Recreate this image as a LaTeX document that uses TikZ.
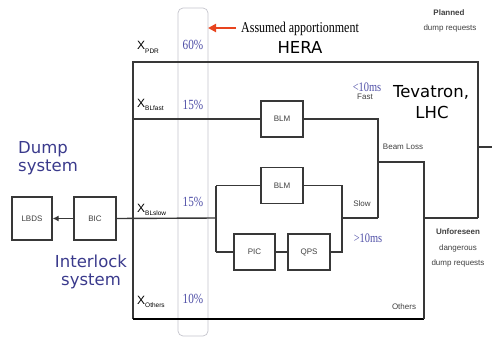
\documentclass[tikz,border=0pt]{standalone}
\usepackage{fontspec}
\setmainfont{Liberation Sans}
\newfontfamily\bigsans{DejaVu Sans}
\newfontfamily\sern[FakeStretch=0.8]{Liberation Serif}
\usetikzlibrary{arrows.meta}
\definecolor{ln}{HTML}{383838}
\definecolor{bluet}{HTML}{3A3A8C}
\definecolor{pct}{HTML}{4E4EA6}
\definecolor{arr}{HTML}{E8441E}
\definecolor{colg}{HTML}{C4C4CC}
\definecolor{lab}{HTML}{404040}
\tikzset{
  wire/.style={draw=ln, line width=1.4pt},
  blk/.style={draw=ln, line width=1.2pt, fill=white, minimum width=42pt, minimum height=36pt, inner sep=0pt, font=\fontsize{8}{9}\selectfont, text=lab},
  small/.style={font=\fontsize{8}{9}\selectfont, text=lab, inner sep=0pt},
  smallb/.style={font=\fontsize{8}{9}\selectfont\bfseries, text=lab, inner sep=0pt},
  big/.style={font=\bigsans\fontsize{16.5}{18}\selectfont, inner sep=0pt},
  pctst/.style={font=\sern\fontsize{14}{14}\selectfont, text=pct, inner sep=0pt, anchor=base},
  xlab/.style={inner sep=0pt, anchor=base west, text=black},
  mslab/.style={font=\sern\fontsize{13}{13}\selectfont, text=pct, inner sep=0pt, anchor=base},
}
\newcommand{\xsub}[1]{{\fontsize{12}{12}\selectfont X}\raisebox{-3pt}{\fontsize{6.5}{6.5}\selectfont #1}}
\begin{document}
\begin{tikzpicture}[x=1pt,y=-1pt]
\useasboundingbox (0,0) rectangle (492,337);
% apportionment column
\draw[colg, line width=0.7pt, rounded corners=5pt] (178,8) rectangle (208,336);
% frame
\coordinate (tl) at (133,62);
\coordinate (tr) at (478,62);
\coordinate (rb) at (478,218);
\coordinate (stub) at (492,147);
\coordinate (stubs) at (478,147);
\coordinate (bl) at (133,319);
\coordinate (br) at (424,319);
\draw[draw=ln, line width=1.8pt] (bl) -- (tl) -- (tr) -- (rb);
\draw[draw=black, line width=2.6pt] (bl) -- (br);
\draw[wire] (stubs) -- (stub);
% boxes
\node[blk, minimum width=40pt, minimum height=43pt] (lbds) at (32,218.5) {LBDS};
\node[blk, minimum height=43pt] (bic) at (95,218.5) {BIC};
\node[blk] (blmf) at (282,119) {BLM};
\node[blk] (blms) at (282,185.5) {BLM};
\node[blk, minimum width=41pt] (pic) at (254.5,252) {PIC};
\node[blk] (qps) at (309,252) {QPS};
% coordinates
\coordinate (fl) at (133,119);
\coordinate (fr) at (378,119);
\coordinate (sl) at (378,218);
\coordinate (sm) at (342,218);
\coordinate (bla) at (378,162);
\coordinate (blb) at (424,162);
\coordinate (ubr) at (424,218);
\coordinate (split) at (216,218);
\coordinate (splitt) at (216,185.5);
\coordinate (splitb) at (216,252);
\coordinate (joint) at (342,185.5);
\coordinate (joinb) at (342,252);
% connectors
\draw[wire, -{Latex[length=6pt,width=6pt]}] (bic.west) -- (lbds.east);
\draw[wire] (bic.east) -- (split);
\draw[wire] (splitt) -- (splitb);
\draw[wire] (splitt) -- (blms.west);
\draw[wire] (blms.east) -- (joint) -- (joinb) -- (qps.east);
\draw[wire] (splitb) -- (pic.west);
\draw[wire] (pic.east) -- (qps.west);
\draw[wire] (sm) -- (sl);
\draw[wire] (fl) -- (blmf.west);
\draw[wire] (blmf.east) -- (fr) -- (sl);
\draw[wire] (bla) -- (blb) -- (br);
\draw[wire] (ubr) -- (rb);
% red arrow
\coordinate (ra) at (236,28);
\coordinate (rb2) at (208,28);
\draw[arr, line width=2.4pt, -{Triangle[length=8pt,width=8pt]}] (ra) -- (rb2);
\node[inner sep=0pt, anchor=base west, font=\sern\fontsize{15}{15}\selectfont] (ass) at (241,33) {Assumed apportionment};
\node[big, anchor=base] (hera) at (300,53) {HERA};
\node[smallb, anchor=base] (plan) at (449,16) {Planned};
\node[small, anchor=base] (dreq) at (450,31) {dump requests};
\node[big, anchor=base] (tev) at (431,97) {Tevatron,};
\node[big, anchor=base] (lhc) at (432,118) {LHC};
\node[big, anchor=base west, text=bluet] (dump) at (18,153) {Dump};
\node[big, anchor=base west, text=bluet] (dsys) at (18,171) {system};
\node[big, anchor=base, text=bluet] (ilk) at (91,267) {Interlock};
\node[big, anchor=base, text=bluet] (isys) at (91,285) {system};
% X labels
\node[xlab] (xpdr) at (137,50) {\xsub{PDR}};
\node[xlab] (xblf) at (137,107) {\xsub{BLfast}};
\node[xlab] (xbls) at (137,212) {\xsub{BLslow}};
\node[xlab] (xoth) at (137,304) {\xsub{Others}};
% percentages
\node[pctst] (p1) at (193,49) {60\%};
\node[pctst] (p2) at (193,109) {15\%};
\node[pctst] (p3) at (193,206) {15\%};
\node[pctst] (p4) at (193,303) {10\%};
% path labels
\node[mslab] (lt10) at (367,91) {<10ms};
\node[small] (fast) at (365,97) {Fast};
\node[small] (bloss) at (403,147) {Beam Loss};
\node[small] (slow) at (362,204) {Slow};
\node[mslab] (gt10) at (368,242) {>10ms};
\node[smallb] (unf) at (458,232) {Unforeseen};
\node[small] (dang) at (458,248) {dangerous};
\node[small] (dreq2) at (458,263) {dump requests};
\node[small] (oth) at (404,307) {Others};
\end{tikzpicture}
\end{document}
